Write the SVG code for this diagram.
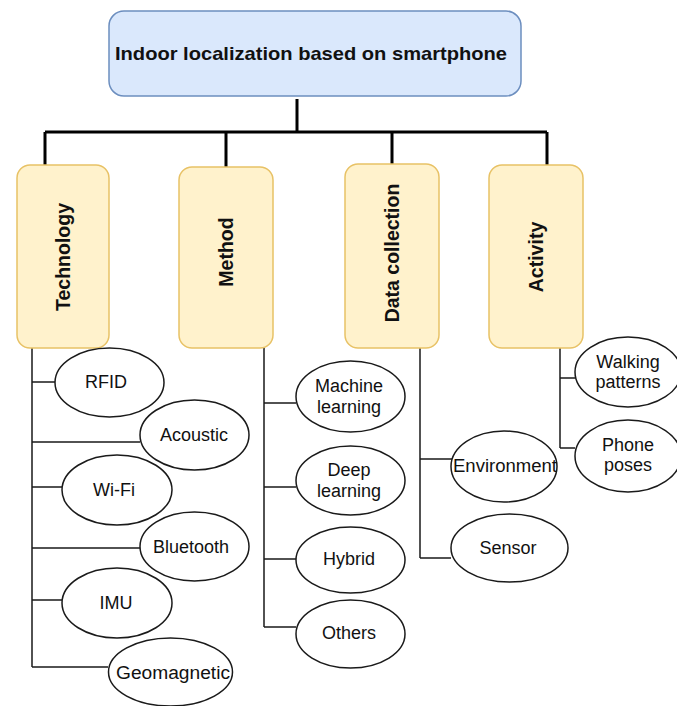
<svg xmlns="http://www.w3.org/2000/svg" width="677" height="706" viewBox="0 0 677 706">
<style>
.root{fill:#dae8fc;stroke:#6c8ebf;stroke-width:1.5}
.cat{fill:#fff2cc;stroke:#e8c266;stroke-width:1.5}
.leaf{fill:#ffffff;stroke:#1a1a1a;stroke-width:1.5}
.t{font-family:"Liberation Sans",Arial,sans-serif;fill:#111;text-anchor:middle}
.tb{font-weight:bold;font-size:18.5px}
.tv{font-weight:bold;font-size:19.5px}
.tl{font-size:18px}
.thick{stroke:#000;stroke-width:3;fill:none}
.thin{stroke:#1a1a1a;stroke-width:1.5;fill:none}
</style>
<rect width="677" height="706" fill="#ffffff"/>
<g id="connectors">
<path class="thick" d="M297,99 V132 M45,132 H547 M45,132 V165 M226,132 V167 M392,132 V164 M547,132 V165"/>
<path class="thin" d="M32,348 V667 M32,382 H55 M32,442 H140 M32,487 H62 M32,548 H140 M32,600 H62 M32,667 H108"/>
<path class="thin" d="M264,348 V627 M264,403 H296 M264,487 H296 M264,559 H296 M264,627 H296"/>
<path class="thin" d="M420,348 V558 M420,459 H452 M420,558 H451"/>
<path class="thin" d="M560,348 V448 M560,378 H575 M560,448 H575"/>
</g>
<g id="root">
<rect class="root" x="109" y="11" width="412" height="85" rx="15"/>
<text class="t tb" x="311" y="60" textLength="392" lengthAdjust="spacingAndGlyphs">Indoor localization based on smartphone</text>
</g>
<g id="technology">
<rect class="cat" x="17" y="165" width="92" height="183" rx="13"/>
<text class="t tv" transform="translate(63,257) rotate(-90)" y="7">Technology</text>
</g>
<g id="method">
<rect class="cat" x="179" y="167" width="94" height="181" rx="13"/>
<text class="t tv" transform="translate(226,252) rotate(-90)" y="7">Method</text>
</g>
<g id="data-collection">
<rect class="cat" x="345" y="164" width="94" height="184" rx="13"/>
<text class="t tv" transform="translate(392,253) rotate(-90)" y="7">Data collection</text>
</g>
<g id="activity">
<rect class="cat" x="489" y="165" width="94" height="183" rx="13"/>
<text class="t tv" transform="translate(536,257) rotate(-90)" y="7">Activity</text>
</g>
<g id="rfid">
<ellipse class="leaf" cx="109.5" cy="382.5" rx="54.5" ry="34.5"/>
<text class="t tl" x="106" y="388">RFID</text>
</g>
<g id="acoustic">
<ellipse class="leaf" cx="194.5" cy="435" rx="54.5" ry="35"/>
<text class="t tl" x="194" y="441">Acoustic</text>
</g>
<g id="wifi">
<ellipse class="leaf" cx="117" cy="490" rx="55" ry="35"/>
<text class="t tl" x="114" y="496">Wi-Fi</text>
</g>
<g id="bluetooth">
<ellipse class="leaf" cx="194.5" cy="546.5" rx="54.5" ry="34.5"/>
<text class="t tl" x="191" y="553">Bluetooth</text>
</g>
<g id="imu">
<ellipse class="leaf" cx="117" cy="603" rx="55" ry="35"/>
<text class="t tl" x="116" y="609">IMU</text>
</g>
<g id="geomagnetic">
<ellipse class="leaf" cx="170.5" cy="672" rx="62" ry="34"/>
<text class="t tl" x="173" y="679" textLength="114" lengthAdjust="spacingAndGlyphs">Geomagnetic</text>
</g>
<g id="machine-learning">
<ellipse class="leaf" cx="350.5" cy="396.5" rx="54.5" ry="35.5"/>
<text class="t tl" x="349" y="392">Machine</text>
<text class="t tl" x="349" y="413">learning</text>
</g>
<g id="deep-learning">
<ellipse class="leaf" cx="350.5" cy="480.5" rx="54.5" ry="34.5"/>
<text class="t tl" x="349" y="476">Deep</text>
<text class="t tl" x="349" y="497">learning</text>
</g>
<g id="hybrid">
<ellipse class="leaf" cx="350.5" cy="560" rx="54.5" ry="33"/>
<text class="t tl" x="349" y="565">Hybrid</text>
</g>
<g id="others">
<ellipse class="leaf" cx="350.5" cy="634" rx="54.5" ry="34"/>
<text class="t tl" x="349" y="639">Others</text>
</g>
<g id="environment">
<ellipse class="leaf" cx="504" cy="466.5" rx="53" ry="35.5"/>
<text class="t tl" x="505" y="472" textLength="104" lengthAdjust="spacingAndGlyphs">Environment</text>
</g>
<g id="sensor">
<ellipse class="leaf" cx="509.5" cy="548" rx="58.5" ry="34"/>
<text class="t tl" x="508" y="554">Sensor</text>
</g>
<g id="walking-patterns">
<ellipse class="leaf" cx="628" cy="372" rx="53" ry="35"/>
<text class="t tl" x="628" y="368">Walking</text>
<text class="t tl" x="628" y="388">patterns</text>
</g>
<g id="phone-poses">
<ellipse class="leaf" cx="628" cy="456" rx="53" ry="36"/>
<text class="t tl" x="628" y="451">Phone</text>
<text class="t tl" x="628" y="471">poses</text>
</g>
</svg>
